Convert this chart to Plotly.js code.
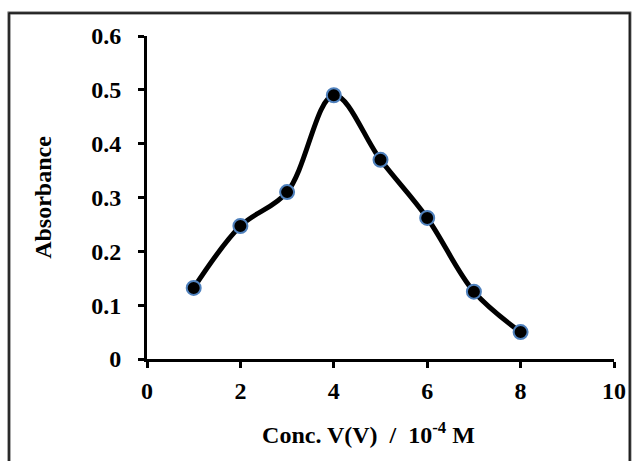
<!DOCTYPE html>
<html>
<head>
<meta charset="utf-8">
<script src="https://cdn.plot.ly/plotly-3.0.1.min.js"></script>
<style>html,body{margin:0;padding:0;background:#fff;}#chart{width:633px;height:461px;}</style>
</head>
<body>
<div id="chart"></div>
<script>
const conc = [1, 2, 3, 4, 5, 6, 7, 8];
const absorbance = [0.132, 0.247, 0.31, 0.49, 0.37, 0.262, 0.125, 0.05];
const xTicks = [0, 2, 4, 6, 8, 10];
const yTicks = [0, 0.1, 0.2, 0.3, 0.4, 0.5, 0.6];
const yTickText = ['0', '0.1', '0.2', '0.3', '0.4', '0.5', '0.6'];

const font = {family: 'Liberation Serif, Times New Roman, serif', color: '#000'};

const trace = {
  x: conc, y: absorbance, type: 'scatter', mode: 'lines+markers',
  line: {shape: 'spline', smoothing: 1, color: '#000', width: 5},
  marker: {size: 14, color: '#000', line: {color: '#4f81bd', width: 2}},
  cliponaxis: false, showlegend: false
};

const layout = {
  width: 633, height: 461,
  margin: {l: 147, r: 19, t: 36, b: 102},
  paper_bgcolor: '#fff', plot_bgcolor: '#fff',
  font: font,
  xaxis: {
    range: [0, 10], tickvals: xTicks, ticktext: xTicks.map(String),
    showgrid: false, zeroline: false, showline: true, linecolor: '#000', linewidth: 3,
    ticks: 'outside', ticklen: 6, tickwidth: 3, tickcolor: '#000',
    tickfont: {family: font.family, size: 24, color: '#000', weight: 'bold'},
    ticklabelstandoff: 2,
    title: {text: '<b>Conc. V(V)  /  10<sup>-4</sup> M&nbsp;&nbsp;&nbsp;&nbsp;</b>', font: {family: font.family, size: 24, color: '#000'}, standoff: 24}
  },
  yaxis: {
    range: [0, 0.6], tickvals: yTicks, ticktext: yTickText,
    showgrid: false, zeroline: false, showline: true, linecolor: '#000', linewidth: 3,
    ticks: 'outside', ticklen: 6, tickwidth: 3, tickcolor: '#000',
    tickfont: {family: font.family, size: 24, color: '#000', weight: 'bold'},
    ticklabelstandoff: 12,
    title: {text: '<b>Absorbance</b>', font: {family: font.family, size: 24, color: '#000'}, standoff: 33}
  },
  shapes: [
    {type: 'rect', xref: 'paper', yref: 'paper', x0: -0.2955, x1: 1.034, y0: -0.35, y1: 1.071,
     line: {color: '#555', width: 3}, layer: 'below'},
    {type: 'rect', xref: 'paper', yref: 'paper', x0: -0.2955, x1: 1.034, y0: -0.35, y1: 1.071,
     line: {color: '#000', width: 1}, layer: 'below'}
  ]
};

Plotly.newPlot('chart', [trace], layout, {displayModeBar: false, staticPlot: true});
</script>
</body>
</html>
